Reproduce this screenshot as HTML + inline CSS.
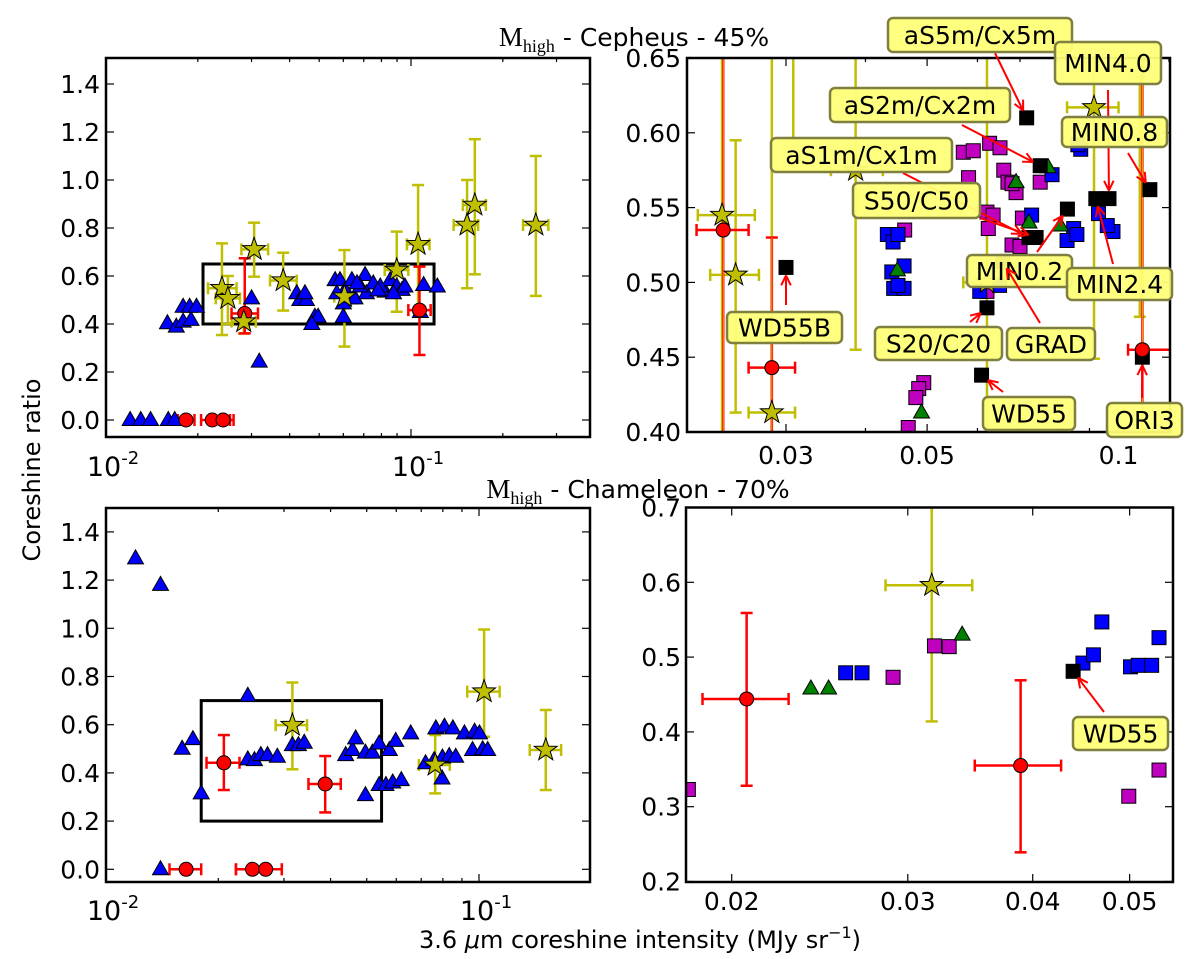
<!DOCTYPE html>
<html><head><meta charset="utf-8"><style>
html,body{margin:0;padding:0;background:#fff;}
svg{display:block;font-family:"DejaVu Sans","Liberation Sans",sans-serif;}
</style></head><body>
<svg id="chart" width="1200" height="959" viewBox="0 0 1200 959" xmlns="http://www.w3.org/2000/svg">
<text x="634" y="46" text-anchor="middle" font-size="25"><tspan font-family="Liberation Serif,serif" font-size="27">M</tspan><tspan font-family="Liberation Serif,serif" font-size="18" dy="6">high</tspan><tspan dy="-6"> - Cepheus - 45%</tspan></text>
<text x="638" y="498" text-anchor="middle" font-size="25"><tspan font-family="Liberation Serif,serif" font-size="27">M</tspan><tspan font-family="Liberation Serif,serif" font-size="18" dy="6">high</tspan><tspan dy="-6"> - Chameleon - 70%</tspan></text>
<text transform="translate(40,470) rotate(-90)" text-anchor="middle" font-size="24">Coreshine ratio</text>
<text x="640" y="948" text-anchor="middle" font-size="24">3.6 <tspan font-style="italic">μ</tspan>m coreshine intensity (MJy sr<tspan font-size="16" dy="-10">−1</tspan><tspan dy="10">)</tspan></text>
<g id="layer"></g>
</svg>
<script>
// ---------- data: top-left (Cepheus, full) ----------
const tlTri=[[0.0120,0],[0.0130,0],[0.0140,0],[0.0160,0],[0.0168,0],[0.0159,0.403],[0.0170,0.389],[0.0179,0.41],[0.0190,0.417],[0.0179,0.472],[0.0188,0.472],[0.0198,0.472],[0.030,0.507],[0.0318,0.243],[0.0422,0.528],[0.0432,0.50],[0.0454,0.50],[0.0449,0.528],[0.0484,0.43],[0.0496,0.43],[0.0473,0.40],[0.0564,0.583],[0.0585,0.583],[0.0608,0.542],[0.064,0.583],[0.0632,0.507],[0.0655,0.507],[0.0600,0.486],[0.0600,0.43],[0.0707,0.604],[0.0752,0.569],[0.0714,0.528],[0.0823,0.535],[0.0855,0.583],[0.0898,0.556],[0.0935,0.542],[0.0955,0.556],[0.110,0.5625],[0.122,0.556],[0.1073,0.45],[0.0793,0.556],[0.0682,0.556],[0.0571,0.528],[0.0876,0.528],[0.0665,0.57],[0.078,0.54]];
const tlStar=[[0.0240,0.549,0.0216,0.0268,0.354,0.736],[0.0251,0.507,0.0229,0.0275,0.40,0.60],[0.0283,0.41,0.0258,0.031,0.36,0.45],[0.0306,0.711,0.0278,0.034,0.597,0.822],[0.0381,0.581,0.0345,0.0422,0.456,0.697],[0.0605,0.514,0.056,0.065,0.306,0.708],[0.0898,0.625,0.082,0.098,0.451,0.785],[0.1055,0.732,0.097,0.115,0.45,0.979],[0.1527,0.8125,0.138,0.166,0.549,1.0],[0.1619,0.896,0.148,0.176,0.607,1.17],[0.2566,0.8125,0.233,0.282,0.517,1.10]];
const tlRed=[[0.0285,0.444,0.0258,0.0315,0.361,0.674],[0.1066,0.458,0.098,0.116,0.271,0.639],[0.0183,0,0.0172,0.0195,0,0],[0.0223,0,0.0205,0.0255,0,0],[0.0242,0,0.0225,0.0262,0,0]];
const tlRect=[0.0208,0.119,0.40,0.65];
const tlYTicks=[0,0.2,0.4,0.6,0.8,1.0,1.2,1.4];
const tlYLabels=["0.0","0.2","0.4","0.6","0.8","1.0","1.2","1.4"];
// ---------- data: top-right (Cepheus, zoom) ----------
const trBlack=[[0.0717,0.610],[0.0753,0.578],[0.112,0.562],[0.0921,0.556],[0.0966,0.556],[0.0831,0.549],[0.0723,0.530],[0.0742,0.530],[0.030,0.510],[0.0621,0.483],[0.0609,0.438],[0.109,0.450],[0.0657,0.514]];
const trMag=[[0.0570,0.587],[0.0591,0.588],[0.0627,0.593],[0.0651,0.590],[0.066,0.575],[0.067,0.567],[0.069,0.560],[0.068,0.566],[0.0581,0.570],[0.0753,0.567],[0.0621,0.547],[0.0635,0.545],[0.0624,0.536],[0.0706,0.543],[0.068,0.525],[0.070,0.524],[0.0621,0.494],[0.0461,0.535],[0.0494,0.433],[0.0485,0.429],[0.048,0.423],[0.0467,0.403]];
const trBlue=[[0.0433,0.532],[0.0442,0.527],[0.045,0.532],[0.044,0.507],[0.046,0.511],[0.0443,0.496],[0.046,0.496],[0.045,0.498],[0.0872,0.589],[0.0863,0.592],[0.0786,0.572],[0.073,0.545],[0.085,0.536],[0.083,0.528],[0.086,0.532],[0.093,0.546],[0.098,0.534],[0.096,0.538],[0.0605,0.494],[0.065,0.498]];
const trGreen=[[0.0775,0.577],[0.069,0.567],[0.0723,0.54],[0.081,0.538],[0.0449,0.508],[0.062,0.5],[0.049,0.413]];
const trStar=[[0.0238,0.545,0.0218,0.0268,0.30,0.80],[0.0250,0.505,0.0228,0.0272,0.413,0.595],[0.0285,0.413,0.0262,0.031,0.30,0.80],[0.0386,0.575,0.0353,0.0426,0.455,0.80],[0.0621,0.50,0.057,0.066,0.30,0.80],[0.0915,0.617,0.083,0.100,0.449,0.80],[0.0308,0.70,0.028,0.034,0.596,0.80],[0.108,0.70,0.108,0.108,0.477,0.637]];
const trRed=[[0.0239,0.535,0.0217,0.0262,0.30,0.80],[0.0285,0.443,0.0262,0.031,0.30,0.530],[0.109,0.455,0.1035,0.1215,0.30,0.80]];
const trYTicks=[0.40,0.45,0.50,0.55,0.60,0.65];
const trYLabels=["0.40","0.45","0.50","0.55","0.60","0.65"];
const trXTicks=[0.03,0.05,0.1];
const trXLabels=["0.03","0.05","0.1"];
const trLabels=["aS5m/Cx5m","MIN4.0","aS2m/Cx2m","MIN0.8","aS1m/Cx1m","S50/C50","MIN0.2","MIN2.4","GRAD","S20/C20","WD55B","WD55","ORI3"];
const trTips=[[0.0717,0.610],[0.0966,0.556],[0.0753,0.578],[0.112,0.562],[0.0723,0.530],[0.0742,0.530],[0.0831,0.549],[0.0921,0.556],[0.0657,0.514],[0.0621,0.483],[0.030,0.510],[0.0609,0.438],[0.109,0.450]];
// ---------- data: bottom-left (Chameleon, full) ----------
const blTri=[[0.0120,1.29],[0.0140,1.18],[0.0140,0.0],[0.0160,0.50],[0.0171,0.54],[0.0180,0.315],[0.0240,0.72],[0.0240,0.456],[0.0250,0.453],[0.0260,0.474],[0.0271,0.474],[0.0288,0.467],[0.0316,0.515],[0.0328,0.515],[0.0340,0.525],[0.0439,0.474],[0.0458,0.495],[0.0467,0.543],[0.0496,0.484],[0.0518,0.484],[0.054,0.522],[0.0575,0.495],[0.0598,0.533],[0.0656,0.564],[0.0496,0.308],[0.054,0.35],[0.0563,0.35],[0.0587,0.36],[0.0619,0.37],[0.0719,0.44],[0.0758,0.453],[0.0798,0.464],[0.0832,0.47],[0.0866,0.467],[0.0796,0.377],[0.0766,0.585],[0.0808,0.592],[0.0851,0.585],[0.0914,0.564],[0.0973,0.571],[0.1003,0.564],[0.0961,0.495],[0.1023,0.498],[0.1055,0.495]];
const blRed=[[0.0164,0,0.0148,0.0180,0,0],[0.0247,0,0.0223,0.0296,0,0],[0.0268,0,0.0223,0.0296,0,0],[0.0207,0.442,0.0186,0.0228,0.329,0.557],[0.0387,0.354,0.0349,0.0426,0.236,0.47]];
const blStar=[[0.0316,0.598,0.0285,0.0346,0.415,0.775],[0.1032,0.737,0.093,0.1136,0.55,0.995],[0.151,0.495,0.1368,0.166,0.329,0.661],[0.0763,0.433,0.069,0.0835,0.315,0.557]];
const blRect=[0.0180,0.0548,0.2,0.7];
// ---------- data: bottom-right (Chameleon, zoom) ----------
const brMag=[[0.0181,0.323],[0.0290,0.473],[0.0319,0.515],[0.0330,0.514],[0.0535,0.349],[0.0499,0.314]];
const brBlue=[[0.0260,0.479],[0.0270,0.479],[0.0449,0.492],[0.0460,0.503],[0.0469,0.547],[0.0501,0.487],[0.0510,0.489],[0.0526,0.489],[0.0535,0.526]];
const brGreen=[[0.0240,0.458],[0.0250,0.458],[0.0340,0.530]];
const brBlack=[[0.0439,0.481]];
const brRed=[[0.0207,0.444,0.0187,0.0228,0.328,0.559],[0.0389,0.355,0.0350,0.0427,0.239,0.469]];
const brStar=[[0.0317,0.596,0.0285,0.0348,0.414,0.78]];
const brYTicks=[0.2,0.3,0.4,0.5,0.6,0.7];
const brYLabels=["0.2","0.3","0.4","0.5","0.6","0.7"];
const brXTicks=[0.02,0.03,0.04,0.05];
const brXLabels=["0.02","0.03","0.04","0.05"];
const brLabels=["WD55"];
const brTips=[[0.0439,0.481]];

const NS='http://www.w3.org/2000/svg';
const root=document.getElementById('layer');
function mk(tag,attrs,parent){const e=document.createElementNS(NS,tag);for(const k in attrs)e.setAttribute(k,attrs[k]);(parent||root).appendChild(e);return e;}
const L10=Math.log10;
const FS=25;

function makePanel(id,x0,x1,y0,y1,xf,yf){
  const g=mk('g',{});
  
  
  const cp=mk('clipPath',{id:id+'-clip'},g);
  mk('rect',{x:x0,y:y0,width:x1-x0,height:y1-y0},cp);
  const marks=mk('g',{'clip-path':'url(#'+id+'-clip)'},g);
  
  
  return {id,x0,x1,y0,y1,xf,yf,g,marks};
}
function frame(p){
  const r=mk('rect',{x:p.x0,y:p.y0,width:p.x1-p.x0,height:p.y1-p.y0,fill:'none',stroke:'#000','stroke-width':2.5},p.g);
  
  
}
function yAxis(p,ticks,labels,lx){
  ticks.forEach((t,i)=>{
    const y=p.yf(t);
    const a=mk('line',{x1:p.x0,x2:p.x0+8,y1:y,y2:y,stroke:'#000','stroke-width':1.2},p.g);
    
    
    const b=mk('line',{x1:p.x1,x2:p.x1-8,y1:y,y2:y,stroke:'#000','stroke-width':1.2},p.g);
    
    
    const tx=mk('text',{x:lx,y:y+9,'text-anchor':'end','font-size':FS},p.g);
    
    
    tx.textContent=labels[i];
  });
}
function xTick(p,v,len){
  const x=p.xf(v);
  const a=mk('line',{x1:x,x2:x,y1:p.y1,y2:p.y1-len,stroke:'#000','stroke-width':1.2},p.g);
  
  
  const b=mk('line',{x1:x,x2:x,y1:p.y0,y2:p.y0+len,stroke:'#000','stroke-width':1.2},p.g);
  
  
}
function xLabel(p,v,txt,y){
  const tx=mk('text',{x:p.xf(v),y:y,'text-anchor':'middle','font-size':FS},p.g);
  
  
  tx.textContent=txt;
}
function powLabel(p,v,exp,y){
  const tx=mk('text',{x:p.xf(v)+7,y:y,'text-anchor':'middle','font-size':27},p.g);
  
  
  tx.innerHTML='10<tspan font-size="18" dy="-12">'+exp+'</tspan>';
}
function logTicks(p,lo,hi){
  for(let d=lo;d<hi;d*=10){for(let k=1;k<10;k++){const v=d*k; if(v>hi*1.0001)break; xTick(p,v,k===1?8:4);}}
}
function ebar(p,r,color,name,core){
  const [x,y,xl,xh,yl,yh]=r;
  const g=mk('g',{stroke:color,'stroke-width':2.5,fill:'none'},p.marks);
  
  
  if(xh>xl){
    mk('line',{x1:p.xf(xl),x2:p.xf(xh),y1:p.yf(y),y2:p.yf(y)},g);
    mk('line',{x1:p.xf(xl),x2:p.xf(xl),y1:p.yf(y)-6,y2:p.yf(y)+6},g);
    mk('line',{x1:p.xf(xh),x2:p.xf(xh),y1:p.yf(y)-6,y2:p.yf(y)+6},g);
  }
  if(yh>yl){
    mk('line',{x1:p.xf(x),x2:p.xf(x),y1:p.yf(yl),y2:p.yf(yh)},g);
    mk('line',{x1:p.xf(x)-6,x2:p.xf(x)+6,y1:p.yf(yl),y2:p.yf(yl)},g);
    mk('line',{x1:p.xf(x)-6,x2:p.xf(x)+6,y1:p.yf(yh),y2:p.yf(yh)},g);
    if(core){mk('line',{x1:p.xf(x),x2:p.xf(x),y1:p.yf(yl),y2:p.yf(yh),stroke:core,'stroke-width':1},g);}
  }
}
function tri(p,d,color,name){
  const x=p.xf(d[0]),y=p.yf(d[1]);
  const e=mk('polygon',{points:`${x},${y-8.5} ${x-8},${y+5.5} ${x+8},${y+5.5}`,fill:color,stroke:'#000','stroke-width':1},p.marks);
  
  
}
function sq(p,d,color,name){
  const x=p.xf(d[0]),y=p.yf(d[1]);
  const e=mk('rect',{x:x-7,y:y-7,width:14,height:14,fill:color,stroke:'#000','stroke-width':1},p.marks);
  
  
}
function circ(p,d,name){
  const e=mk('circle',{cx:p.xf(d[0]),cy:p.yf(d[1]),r:7,fill:'#ff0000',stroke:'#000','stroke-width':1},p.marks);
  
  
}
function star(p,d,name){
  const cx=p.xf(d[0]),cy=p.yf(d[1]);let pts=[];
  for(let i=0;i<10;i++){const r=i%2?4.8:12;const a=-Math.PI/2+i*Math.PI/5;pts.push((cx+r*Math.cos(a)).toFixed(1)+','+(cy+r*Math.sin(a)).toFixed(1));}
  const e=mk('polygon',{points:pts.join(' '),fill:'#bfbf00',stroke:'#000','stroke-width':1},p.marks);
  
  
}
function rectBox(p,r){
  const e=mk('rect',{x:p.xf(r[0]),y:p.yf(r[3]),width:p.xf(r[1])-p.xf(r[0]),height:p.yf(r[2])-p.yf(r[3]),fill:'none',stroke:'#000','stroke-width':3},p.marks);
  
  
}
function annotate(p,txt,box,start,tip){
  const tx=p.xf(tip[0]),ty=p.yf(tip[1]);
  const dx=start[0]-tx,dy=start[1]-ty,len=Math.hypot(dx,dy)||1;
  const ex=tx+dx/len*8,ey=ty+dy/len*8;
  const g=mk('g',{});
  
  
  mk('line',{x1:start[0],y1:start[1],x2:ex,y2:ey,stroke:'#ff0000','stroke-width':2},g);
  const ux=-dx/len,uy=-dy/len;
  [0.45,-0.45].forEach(a=>{const c=Math.cos(Math.PI+a),s=Math.sin(Math.PI+a);
    const hx=ex+(ux*c-uy*s)*11,hy=ey+(ux*s+uy*c)*11;
    mk('line',{x1:ex,y1:ey,x2:hx,y2:hy,stroke:'#ff0000','stroke-width':2},g);});
  mk('rect',{x:box[0],y:box[2],width:box[1]-box[0],height:box[3]-box[2],rx:5,fill:'#ffff78','fill-opacity':0.95,stroke:'#7f7f40','stroke-width':2.5},g);
  const t=mk('text',{x:(box[0]+box[1])/2,y:(box[2]+box[3])/2+9,'text-anchor':'middle','font-size':25},g);
  t.textContent=txt;
}

// ----- panels -----
const TL=makePanel('cepheus-full',106,590,58,437,v=>106+305*L10(v/0.01),v=>420-240*v);
const TR=makePanel('cepheus-zoom',687,1170,58,432,v=>786+636*L10(v/0.03),v=>432-(v-0.4)*1496);
const BL=makePanel('chameleon-full',106,590,508,882,v=>106+373*L10(v/0.01),v=>869.3-241*v);
const BR=makePanel('chameleon-zoom',686,1173,507.5,882,v=>731.7+1000*L10(v/0.02),v=>881.5-748*(v-0.2));

// TL
rectBox(TL,tlRect);
tlStar.forEach(r=>ebar(TL,r,'#bfbf00','star-errorbar'));
tlRed.forEach(r=>ebar(TL,r,'#ff0000','circle-errorbar'));
tlTri.forEach(d=>tri(TL,d,'#0000ff','blue-triangle'));
tlRed.forEach(d=>circ(TL,d,'red-circle'));
tlStar.forEach(d=>star(TL,d,'yellow-star'));
frame(TL);yAxis(TL,tlYTicks,tlYLabels,100);logTicks(TL,0.01,0.386);
powLabel(TL,0.01,'-2',476);powLabel(TL,0.1,'-1',476);

// TR
trStar.forEach(r=>ebar(TR,r,'#bfbf00','star-errorbar'));
trRed.forEach(r=>ebar(TR,r,'#ff0000','circle-errorbar','#e8b000'));
trMag.forEach(d=>sq(TR,d,'#bf00bf','magenta-square'));
trBlue.forEach(d=>sq(TR,d,'#0000ff','blue-square'));
trGreen.forEach(d=>tri(TR,d,'#008000','green-triangle'));
trBlack.forEach(d=>sq(TR,d,'#000000','black-square'));
trRed.forEach(d=>circ(TR,d,'red-circle'));
trStar.slice(0,7).forEach(d=>star(TR,d,'yellow-star'));
frame(TR);yAxis(TR,trYTicks,trYLabels,681);
for(let v=0.03;v<0.125;v+=0.01){xTick(TR,v,trXTicks.some(t=>Math.abs(t-v)<1e-6)?8:4);}
trXTicks.forEach((v,i)=>xLabel(TR,v,trXLabels[i],464));
const trBoxes=[[888,1072,18,52],[1055,1161,42,84],[830,1010,88,122],[1062,1167,117,147],[771,952,138,172],[853,980,183,218],[967,1072,255,287],[1067,1172,268,300],[1007,1095,328,360],[875,1002,327,360],[727,842,312,343],[983,1075,397,430],[1107,1182,403,437]];
const trStarts=[[995,53],[1108,90],[962,125],[1128,153],[903,173],[980,218],[1037,252],[1113,264],[1040,323],[970,322],[786,305],[1003,392],[1142,398]];
trLabels.forEach((t,i)=>annotate(TR,t,trBoxes[i],trStarts[i],trTips[i]));

// BL
rectBox(BL,blRect);
blStar.forEach(r=>ebar(BL,r,'#bfbf00','star-errorbar'));
blRed.forEach(r=>ebar(BL,r,'#ff0000','circle-errorbar'));
blTri.forEach(d=>tri(BL,d,'#0000ff','blue-triangle'));
blRed.forEach(d=>circ(BL,d,'red-circle'));
blStar.forEach(d=>star(BL,d,'yellow-star'));
frame(BL);yAxis(BL,tlYTicks,tlYLabels,100);logTicks(BL,0.01,0.198);
powLabel(BL,0.01,'-2',920);powLabel(BL,0.1,'-1',920);

// BR
brStar.forEach(r=>ebar(BR,r,'#bfbf00','star-errorbar'));
brRed.forEach(r=>ebar(BR,r,'#ff0000','circle-errorbar'));
brMag.forEach(d=>sq(BR,d,'#bf00bf','magenta-square'));
brBlue.forEach(d=>sq(BR,d,'#0000ff','blue-square'));
brGreen.forEach(d=>tri(BR,d,'#008000','green-triangle'));
brBlack.forEach(d=>sq(BR,d,'#000000','black-square'));
brRed.forEach(d=>circ(BR,d,'red-circle'));
brStar.forEach(d=>star(BR,d,'yellow-star'));
frame(BR);yAxis(BR,brYTicks,brYLabels,681);
brXTicks.forEach((v,i)=>{xTick(BR,v,8);xLabel(BR,v,brXLabels[i],910);});
brLabels.forEach((t,i)=>annotate(BR,t,[1073,1168,717,750],[1104,712],brTips[i]));
</script>
</body></html>
